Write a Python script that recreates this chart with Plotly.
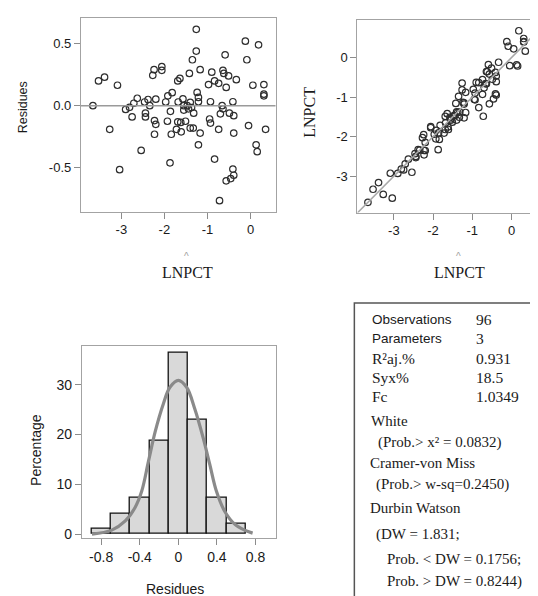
import plotly.graph_objects as go

W, H = 538, 596


def px(x):
    return x / W


def py(y):
    return 1 - y / H


# ---------------- data ----------------
pred_lnpct = [-3.66, -3.53, -3.39, -3.09, -3.27, -3.04, -2.90, -2.81, -2.75, -2.71,
              -2.63, -2.54, -2.46, -2.44, -2.44, -2.38, -2.34, -2.27, -2.24, -2.23,
              -2.20, -2.23, -2.20, -2.06, -2.06, -1.97, -1.93, -1.92, -1.86, -1.87,
              -1.84, -1.82, -1.72, -1.69, -1.68, -1.64, -1.69, -1.61, -1.62, -1.57,
              -1.55, -1.55, -1.51, -1.47, -1.44, -1.42, -1.40, -1.37, -1.35, -1.33,
              -1.32, -1.40, -1.26, -1.26, -1.24, -1.21, -1.21, -1.21, -1.17, -1.17,
              -0.975, -0.93, -0.95, -0.93, -0.90, -0.835, -0.835, -0.74, -0.74, -0.70,
              -0.72, -0.64, -0.62, -0.66, -0.64, -0.59, -0.565, -0.565, -0.51, -0.49,
              -0.46, -0.41, -0.39, -0.41, -0.39, -0.39, -0.33, -0.12, -0.085, -0.046,
              0.054, 0.13, 0.155, 0.186, 0.31, 0.31, 0.31, 0.35]

residues = [0.0, 0.20, 0.23, 0.165, -0.19, -0.515, -0.03, -0.013, -0.09, 0.02,
            0.06, -0.36, 0.03, -0.06, -0.09, 0.05, 0.0, 0.245, 0.29, -0.12,
            -0.15, -0.23, 0.053, 0.315, 0.285, 0.03, -0.125, 0.08, -0.045, -0.46,
            -0.23, 0.105, -0.19, 0.20, 0.03, 0.22, -0.13, -0.21, -0.135, 0.055,
            0.0, -0.035, -0.125, 0.0, -0.025, 0.26, -0.18, -0.015, 0.37, -0.18,
            -0.06, 0.027, 0.615, 0.44, 0.107, 0.067, 0.032, -0.315, -0.22, 0.29,
            0.17, 0.032, -0.107, -0.14, 0.27, 0.20, -0.43, 0.18, -0.19, -0.065,
            -0.765, 0.285, 0.26, 0.0, -0.025, 0.41, 0.147, -0.605, 0.24, -0.06,
            -0.587, 0.032, -0.08, -0.51, -0.56, -0.22, 0.21, 0.52, 0.37, -0.16,
            0.165, -0.315, -0.37, 0.49, 0.17, 0.093, 0.08, -0.19]

obs_lnpct = [-3.66, -3.33, -3.16, -2.925, -3.46, -3.555, -2.93, -2.823, -2.84, -2.69,
             -2.57, -2.90, -2.43, -2.50, -2.53, -2.33, -2.34, -2.025, -1.95, -2.35,
             -2.35, -2.46, -2.147, -1.745, -1.775, -1.94, -2.055, -1.84, -1.905, -2.33,
             -2.07, -1.715, -1.91, -1.49, -1.65, -1.42, -1.82, -1.82, -1.755, -1.515,
             -1.55, -1.585, -1.635, -1.47, -1.465, -1.16, -1.58, -1.385, -0.98, -1.51,
             -1.38, -1.373, -0.645, -0.82, -1.133, -1.143, -1.178, -1.525, -1.39, -0.88,
             -0.805, -0.898, -1.057, -1.07, -0.63, -0.635, -1.265, -0.56, -0.93, -0.765,
             -1.485, -0.355, -0.36, -0.66, -0.665, -0.18, -0.418, -1.17, -0.27, -0.55,
             -1.047, -0.378, -0.47, -0.92, -0.95, -0.61, -0.12, 0.40, 0.285, -0.206,
             0.219, -0.185, -0.215, 0.676, 0.48, 0.403, 0.39, 0.16]

bin_centers = [-0.8, -0.6, -0.4, -0.2, 0.0, 0.2, 0.4, 0.6]
bin_pct = [1.04, 4.17, 7.29, 18.75, 36.46, 22.92, 7.29, 2.08]

curve_x = [-0.895, -0.69, -0.55, -0.45, -0.38, -0.31, -0.24, -0.155, -0.087, 0.0,
           0.086, 0.17, 0.258, 0.327, 0.395, 0.48, 0.584, 0.687, 0.77]
curve_y = [0.0, 0.8, 2.65, 5.3, 8.6, 14.6, 20.6, 26.2, 29.5, 30.9,
           29.5, 25.2, 19.3, 13.9, 8.6, 4.6, 2.0, 0.8, 0.2]

lnpct_ticks = [-3, -2, -1, 0]
lnpct_ticktext = ["-3", "-2", "-1", "0"]
res_ticks = [-0.5, 0.0, 0.5]
res_ticktext = ["-0.5", "0.0", "0.5"]
hist_xticks = [-0.8, -0.4, 0, 0.4, 0.8]
hist_xticktext = ["-0.8", "-0.4", "0", "0.4", "0.8"]
hist_yticks = [0, 10, 20, 30]
hist_yticktext = ["0", "10", "20", "30"]

stat_labels = ["Observations", "Parameters", "R²aj.%", "Syx%", "Fc"]
stat_values = ["96", "3", "0.931", "18.5", "1.0349"]
test_lines = ["White", "(Prob.&gt; x² = 0.0832)", "Cramer-von Miss",
              "(Prob.&gt; w-sq=0.2450)", "Durbin Watson", "(DW = 1.831;",
              "Prob. &lt; DW = 0.1756;", "Prob. &gt; DW = 0.8244)"]

# ---------------- styling ----------------
SANS = "Liberation Sans, Arial, sans-serif"
SERIF = "Liberation Serif, Times New Roman, serif"
FRAME = "#a3a3a3"
TXT = "#1a1a1a"

fig = go.Figure()

marker = dict(symbol="circle-open", size=6.5, color="#2e2e2e", line=dict(width=1.2))

fig.add_trace(go.Scatter(x=pred_lnpct, y=residues, mode="markers", marker=marker,
                         xaxis="x", yaxis="y", hoverinfo="skip"))
fig.add_trace(go.Scatter(x=pred_lnpct, y=obs_lnpct, mode="markers", marker=marker,
                         xaxis="x2", yaxis="y2", hoverinfo="skip"))
fig.add_trace(go.Bar(x=bin_centers, y=bin_pct, width=0.2,
                     marker=dict(color="#d9d9d9", line=dict(color="#111111", width=1.3)),
                     xaxis="x3", yaxis="y3", hoverinfo="skip"))
fig.add_trace(go.Scatter(x=curve_x, y=curve_y, mode="lines",
                         line=dict(color="#8a8a8a", width=3.2, shape="spline", smoothing=1.0),
                         xaxis="x3", yaxis="y3", hoverinfo="skip"))


def ax(domain, rng, tv, tt, anchor, size):
    return dict(domain=domain, range=rng, tickvals=tv, ticktext=tt, anchor=anchor,
                showline=True, mirror=True, linecolor=FRAME, linewidth=1,
                ticks="outside", ticklen=6, tickcolor="#8c8c8c", tickwidth=1,
                showgrid=False, zeroline=False,
                tickfont=dict(family=SANS, size=size, color=TXT))


fig.update_layout(
    width=W, height=H, margin=dict(l=0, r=0, t=0, b=0),
    paper_bgcolor="white", plot_bgcolor="white", showlegend=False,
    xaxis=ax([px(73), px(268)], [-3.94, 0.58], lnpct_ticks, lnpct_ticktext, "y", 13),
    yaxis=ax([py(205), py(10)], [-0.853, 0.707], res_ticks, res_ticktext, "x", 13),
    xaxis2=ax([px(350), px(537.5)], [-3.93, 0.84], lnpct_ticks, lnpct_ticktext, "y2", 13),
    yaxis2=ax([py(206), py(12)], [-3.92, 0.95], lnpct_ticks, lnpct_ticktext, "x2", 13),
    xaxis3=ax([px(74), px(268)], [-1.0, 1.007], hist_xticks, hist_xticktext, "y3", 14),
    yaxis3=ax([py(534), py(340)], [-0.86, 37.85], hist_yticks, hist_yticktext, "x3", 14),
    bargap=0,
)

shapes = [
    dict(type="line", xref="x domain", yref="y", x0=0, x1=1, y0=0, y1=0,
         line=dict(color="#9a9a9a", width=1.5)),
    dict(type="line", xref="x2", yref="y2", x0=-4.0, y0=-4.0, x1=1.0, y1=1.0,
         line=dict(color="#a8a8a8", width=1.5)),
    dict(type="rect", xref="paper", yref="paper", x0=px(347), x1=px(536.5),
         y0=py(594.5), y1=py(297), line=dict(color="#555555", width=1.5)),
]
fig.update_layout(shapes=shapes)

ann = []


def add_text(text, x, y, family, size, color=TXT, xanchor="left", angle=0):
    ann.append(dict(text=text, x=px(x), y=py(y), xref="paper", yref="paper",
                    xanchor=xanchor, yanchor="middle", showarrow=False,
                    textangle=angle, font=dict(family=family, size=size, color=color)))


# axis titles
add_text("Residues", 15, 100, SANS, 12.5, xanchor="center", angle=-90)
add_text("^", 179, 250, SANS, 10, color="#a0a0a0", xanchor="center")
add_text("LNPCT", 180, 266, SERIF, 16, xanchor="center")
add_text("LNPCT", 302, 105, SERIF, 16, xanchor="center", angle=-90)
add_text("^", 451, 250, SANS, 10, color="#a0a0a0", xanchor="center")
add_text("LNPCT", 452, 266, SERIF, 16, xanchor="center")
add_text("Percentage", 28, 445, SANS, 14, xanchor="center", angle=-90)
add_text("Residues", 167, 585, SANS, 14, xanchor="center")

# statistics box
stat_y = [314, 333, 353, 372, 391]
for i, (lab, val) in enumerate(zip(stat_labels, stat_values)):
    fam = SANS if i < 2 else SERIF
    add_text(lab, 363, stat_y[i], fam, 13.5 if i < 2 else 15.5)
    add_text(val, 467, stat_y[i], SERIF, 15.5)

test_x = [362, 369, 361, 367, 361, 367, 378, 378]
test_y = [416, 437, 458, 480, 503, 530, 555, 577]
for t, x, y in zip(test_lines, test_x, test_y):
    add_text(t, x, y, SERIF, 15)

fig.update_layout(annotations=ann)

fig.write_html("out.html")
